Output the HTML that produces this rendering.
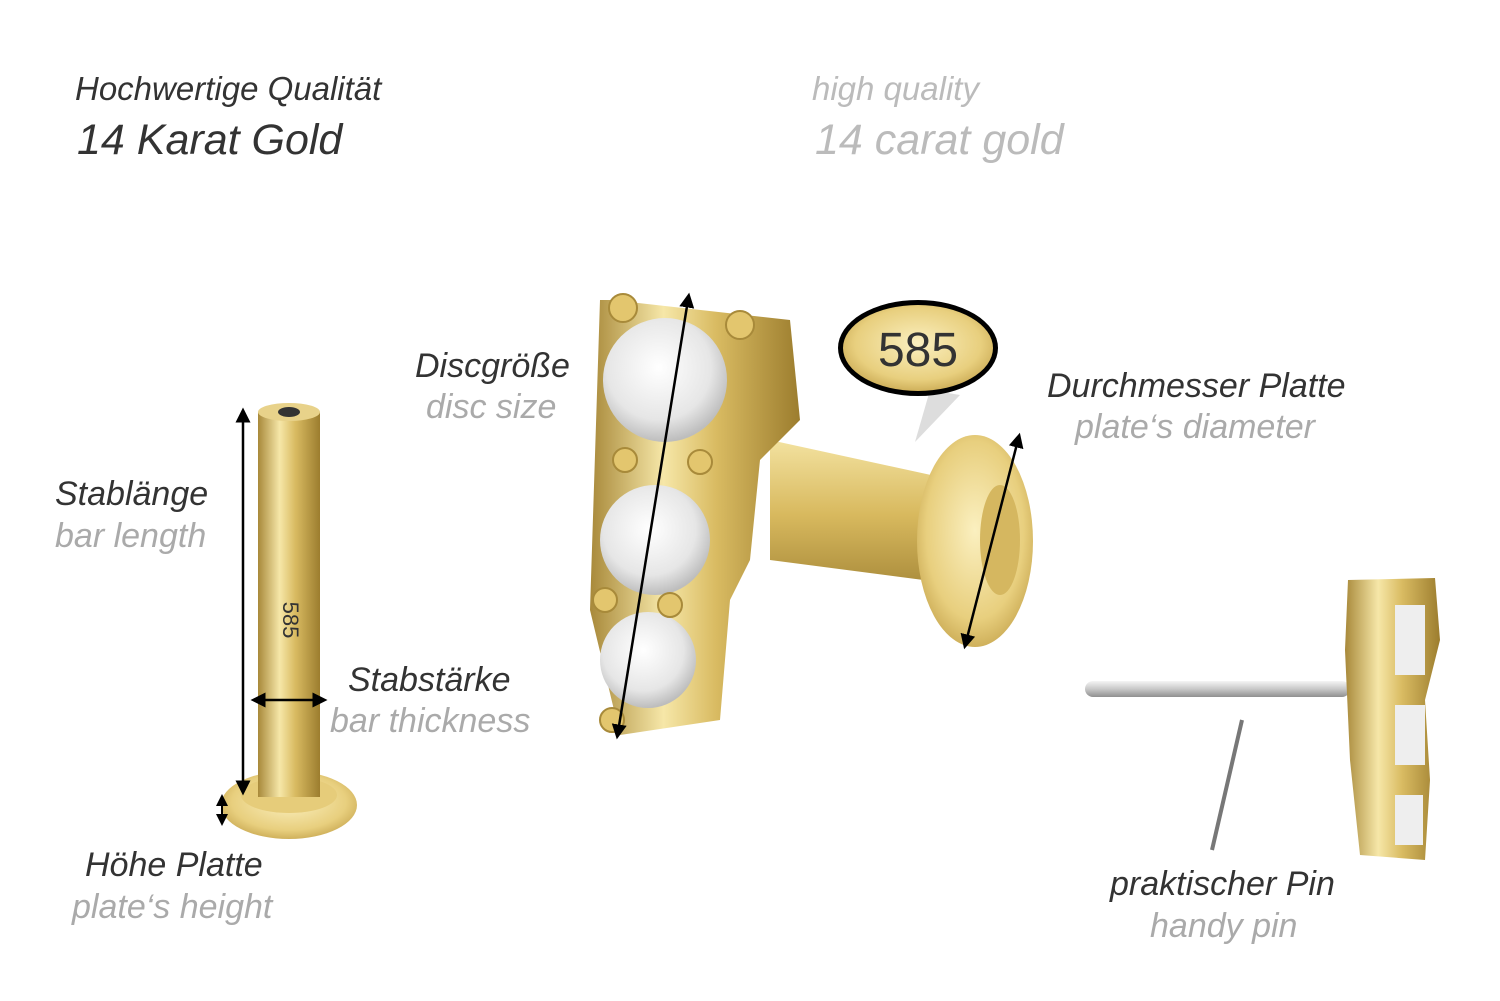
<!DOCTYPE html>
<html><head><meta charset="utf-8"><style>
html,body{margin:0;padding:0;background:#fff;}
body{width:1500px;height:1001px;position:relative;overflow:hidden;font-family:"Liberation Sans",sans-serif;font-style:italic;}
.t{position:absolute;white-space:nowrap;line-height:1;font-size:34px;}
.d{color:#333;}
.g{color:#aaa;}
</style></head><body>
<svg width="1500" height="1001" style="position:absolute;left:0;top:0">
<defs>
<linearGradient id="gold" x1="0" x2="1" y1="0" y2="0">
<stop offset="0" stop-color="#a8893a"/><stop offset="0.35" stop-color="#f6e7a8"/><stop offset="0.6" stop-color="#d9bb62"/><stop offset="1" stop-color="#9c7d2e"/>
</linearGradient>
<linearGradient id="goldv" x1="0" x2="0" y1="0" y2="1">
<stop offset="0" stop-color="#f3e2a0"/><stop offset="0.5" stop-color="#d8b95e"/><stop offset="1" stop-color="#a88a3a"/>
</linearGradient>
<radialGradient id="disc" cx="0.5" cy="0.45" r="0.6">
<stop offset="0" stop-color="#fbf0c0"/><stop offset="0.7" stop-color="#e8cf7e"/><stop offset="1" stop-color="#c6a54e"/>
</radialGradient>
<radialGradient id="stone" cx="0.45" cy="0.4" r="0.6">
<stop offset="0" stop-color="#ffffff"/><stop offset="0.7" stop-color="#e6e6e6"/><stop offset="1" stop-color="#bdbdbd"/>
</radialGradient>
<linearGradient id="silver" x1="0" x2="0" y1="0" y2="1">
<stop offset="0" stop-color="#f5f5f5"/><stop offset="0.5" stop-color="#c8c8c8"/><stop offset="1" stop-color="#8f8f8f"/>
</linearGradient>
<marker id="ar" markerWidth="6" markerHeight="6" refX="3" refY="3" orient="auto-start-reverse"><path d="M0,0 L6,3 L0,6 z" fill="#000"/></marker>
</defs>
<ellipse cx="289" cy="805" rx="68" ry="34" fill="url(#disc)"/>
<ellipse cx="289" cy="795" rx="48" ry="18" fill="#e6cc7a"/>
<rect x="258" y="412" width="62" height="385" fill="url(#gold)"/>
<ellipse cx="289" cy="412" rx="31" ry="9" fill="#e8d28a"/>
<ellipse cx="289" cy="412" rx="11" ry="5" fill="#333"/>
<text x="0" y="0" transform="translate(283,620) rotate(90)" font-family="Liberation Sans" font-style="normal" font-size="22" fill="#333" text-anchor="middle">585</text>
<line x1="243" y1="415" x2="243" y2="788" stroke="#000" stroke-width="2.5" marker-start="url(#ar)" marker-end="url(#ar)"/>
<line x1="258" y1="700" x2="320" y2="700" stroke="#000" stroke-width="2.5" marker-start="url(#ar)" marker-end="url(#ar)"/>
<line x1="222" y1="800" x2="222" y2="820" stroke="#000" stroke-width="2" marker-start="url(#ar)" marker-end="url(#ar)"/>
<polygon points="770,440 1000,490 1000,590 770,560" fill="url(#goldv)"/>
<ellipse cx="975" cy="541" rx="58" ry="106" fill="url(#disc)"/>
<ellipse cx="1000" cy="540" rx="20" ry="55" fill="#d5b760"/>
<path d="M612,300 L790,320 L800,420 L760,460 L750,560 L730,600 L720,720 L620,735 L590,610 L600,300 z" fill="url(#gold)"/>
<circle cx="665" cy="380" r="62" fill="url(#stone)"/>
<circle cx="655" cy="540" r="55" fill="url(#stone)"/>
<circle cx="648" cy="660" r="48" fill="url(#stone)"/>
<g fill="#e3c66e" stroke="#a88a3a" stroke-width="2">
<circle cx="623" cy="308" r="14"/><circle cx="740" cy="325" r="14"/><circle cx="625" cy="460" r="12"/><circle cx="700" cy="462" r="12"/><circle cx="605" cy="600" r="12"/><circle cx="670" cy="605" r="12"/><circle cx="612" cy="720" r="12"/>
</g>
<line x1="688" y1="300" x2="618" y2="732" stroke="#000" stroke-width="2.5" marker-start="url(#ar)" marker-end="url(#ar)"/>
<line x1="1018" y1="440" x2="966" y2="642" stroke="#000" stroke-width="2.5" marker-start="url(#ar)" marker-end="url(#ar)"/>
<polygon points="915,442 930,390 960,395" fill="#ddd"/>
<ellipse cx="918" cy="348" rx="80" ry="48" fill="#000"/>
<ellipse cx="918" cy="348" rx="75" ry="43" fill="url(#disc)"/>
<text x="918" y="366" font-family="Liberation Sans" font-style="normal" font-size="48" fill="#333" text-anchor="middle">585</text>
<rect x="1085" y="681" width="265" height="16" rx="8" fill="url(#silver)"/>
<path d="M1348,580 L1435,578 L1440,640 L1425,700 L1430,780 L1425,860 L1360,855 L1350,760 L1345,650 z" fill="url(#gold)"/>
<rect x="1395" y="605" width="30" height="70" fill="#eee"/>
<rect x="1395" y="705" width="30" height="60" fill="#eee"/>
<rect x="1395" y="795" width="28" height="50" fill="#eee"/>
<line x1="1242" y1="720" x2="1212" y2="850" stroke="#777" stroke-width="4"/>
</svg>
<div class="t d" style="left:75px;top:72px;font-size:33px">Hochwertige Qualität</div>
<div class="t d" style="left:77px;top:119px;font-size:43px">14 Karat Gold</div>
<div class="t g" style="left:812px;top:72px;font-size:33px;color:#bbb">high quality</div>
<div class="t g" style="left:815px;top:119px;font-size:43px;color:#bbb">14 carat gold</div>
<div class="t d" style="left:415px;top:349px">Discgröße</div>
<div class="t g" style="left:426px;top:390px">disc size</div>
<div class="t d" style="left:1047px;top:369px">Durchmesser Platte</div>
<div class="t g" style="left:1075px;top:410px">plate‘s diameter</div>
<div class="t d" style="left:55px;top:477px">Stablänge</div>
<div class="t g" style="left:55px;top:519px">bar length</div>
<div class="t d" style="left:348px;top:663px">Stabstärke</div>
<div class="t g" style="left:330px;top:704px">bar thickness</div>
<div class="t d" style="left:85px;top:848px">Höhe Platte</div>
<div class="t g" style="left:72px;top:890px">plate‘s height</div>
<div class="t d" style="left:1110px;top:867px">praktischer Pin</div>
<div class="t g" style="left:1150px;top:909px">handy pin</div>
</body></html>
